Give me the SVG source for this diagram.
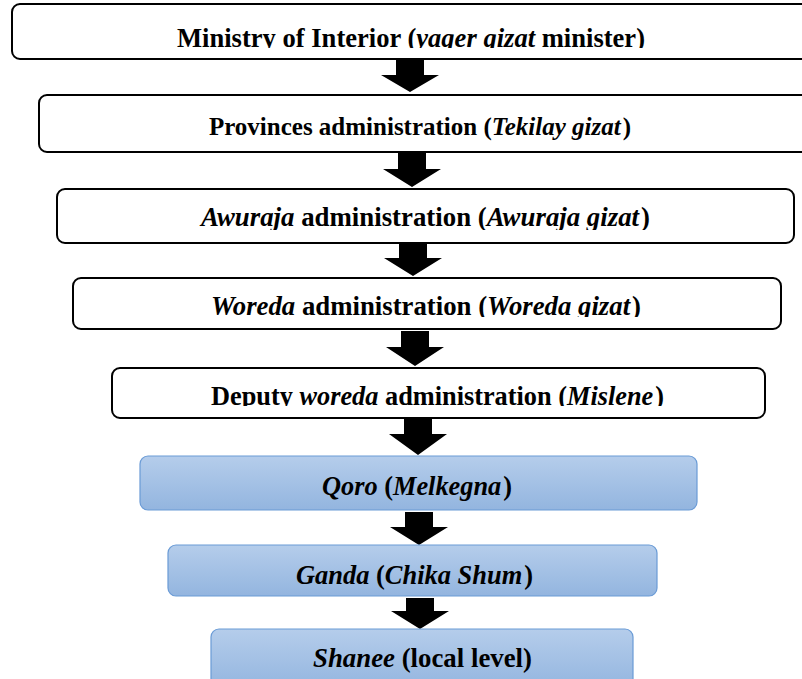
<svg xmlns="http://www.w3.org/2000/svg" width="802" height="679" viewBox="0 0 802 679">
<style>
.box{fill:#fff;stroke:#000;stroke-width:2}
.blue{fill:url(#bg);stroke:#6a9bd6;stroke-width:1.2}
.t{font-family:"Liberation Serif","Times New Roman",serif;font-weight:bold;font-size:27px;fill:#000;text-anchor:start}
.i{font-style:italic}
.arr{fill:#000}
</style>
<defs>
<linearGradient id="bg" x1="0" y1="0" x2="0" y2="1">
<stop offset="0" stop-color="#b5cdeb"/>
<stop offset="1" stop-color="#93b5df"/>
</linearGradient>
<clipPath id="c1"><rect x="0" y="0" width="802" height="48"/></clipPath>
<clipPath id="c3"><rect x="0" y="190" width="802" height="40"/></clipPath>
<clipPath id="c4"><rect x="0" y="279" width="802" height="38"/></clipPath>
<clipPath id="c5"><rect x="0" y="369" width="802" height="37"/></clipPath>
</defs>
<g id="connectors">
<path class="arr" d="M396,60 H424 V75 H439 L410,92 L381,75 H396 Z"/>
<path class="arr" d="M398,153 H426 V169 H441 L412,187 L383,169 H398 Z"/>
<path class="arr" d="M399,244 H427 V258 H442 L413,276 L384,258 H399 Z"/>
<path class="arr" d="M401,331 H429 V347 H444 L415,366 L386,347 H401 Z"/>
<path class="arr" d="M404,419 H432 V434 H447 L418,455 L389,434 H404 Z"/>
<path class="arr" d="M405,512 H433 V527 H448 L419,545 L390,527 H405 Z"/>
<path class="arr" d="M406,598 H434 V611 H449 L420,629 L391,611 H406 Z"/>
</g>
<g id="n1">
<rect class="box" x="12" y="4" width="800" height="55" rx="8"/>
<text class="t" x="177" y="47" textLength="468" lengthAdjust="spacingAndGlyphs" clip-path="url(#c1)">Ministry of Interior (<tspan class="i">yager gizat</tspan> minister)</text>
</g>
<g id="n2">
<rect class="box" x="39" y="95" width="772" height="57" rx="8"/>
<text class="t" x="420" y="135" style="font-size:25px;text-anchor:middle">Provinces administration (<tspan class="i">Tekilay gizat</tspan><tspan dx="2">)</tspan></text>
</g>
<g id="n3">
<rect class="box" x="57" y="189" width="737" height="54" rx="8"/>
<text class="t" x="201" y="226" textLength="449" lengthAdjust="spacingAndGlyphs" clip-path="url(#c3)"><tspan class="i">Awuraja</tspan> administration (<tspan class="i">Awuraja gizat</tspan><tspan dx="2">)</tspan></text>
</g>
<g id="n4">
<rect class="box" x="73" y="278" width="708" height="51" rx="8"/>
<text class="t" x="211" y="315" textLength="430" lengthAdjust="spacingAndGlyphs" clip-path="url(#c4)"><tspan class="i">Woreda</tspan> administration (<tspan class="i">Woreda gizat</tspan><tspan dx="2">)</tspan></text>
</g>
<g id="n5">
<rect class="box" x="112" y="368" width="653" height="50" rx="8"/>
<text class="t" x="211" y="405" textLength="453" lengthAdjust="spacingAndGlyphs" clip-path="url(#c5)">Deputy <tspan class="i">woreda</tspan> administration (<tspan class="i">Mislene</tspan><tspan dx="2">)</tspan></text>
</g>
<g id="n6">
<rect class="blue" x="140" y="456" width="557" height="54" rx="8"/>
<text class="t" x="322" y="495" textLength="190" lengthAdjust="spacingAndGlyphs"><tspan class="i">Qoro</tspan> (<tspan class="i">Melkegna</tspan><tspan dx="2">)</tspan></text>
</g>
<g id="n7">
<rect class="blue" x="168" y="545" width="489" height="51" rx="8"/>
<text class="t" x="296" y="584" textLength="237" lengthAdjust="spacingAndGlyphs"><tspan class="i">Ganda</tspan> (<tspan class="i">Chika Shum</tspan><tspan dx="2">)</tspan></text>
</g>
<g id="n8">
<rect class="blue" x="211" y="629" width="422" height="60" rx="8"/>
<text class="t" x="313" y="667" textLength="219" lengthAdjust="spacingAndGlyphs"><tspan class="i">Shanee</tspan> (local level)</text>
</g>
</svg>
